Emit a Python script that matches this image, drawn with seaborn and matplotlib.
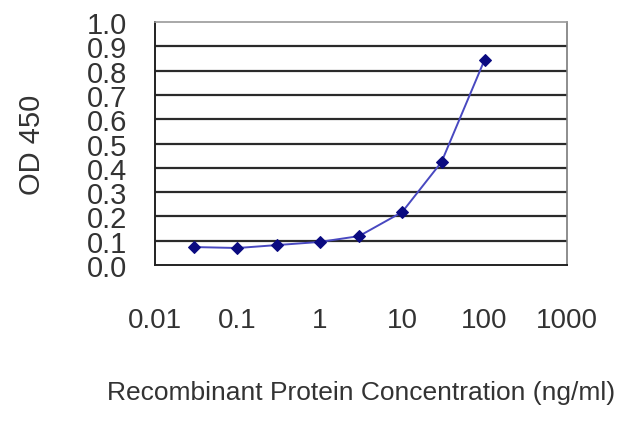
import matplotlib
matplotlib.use("Agg")
import matplotlib.pyplot as plt
import seaborn as sns
import pandas as pd

concentration = [0.03, 0.1, 0.3, 1, 3, 10, 30, 100]
od450 = [0.074, 0.070, 0.082, 0.095, 0.119, 0.218, 0.424, 0.845]
x_ticks = [0.01, 0.1, 1, 10, 100, 1000]
x_tick_labels = ["0.01", "0.1", "1", "10", "100", "1000"]
y_ticks = [0.0, 0.1, 0.2, 0.3, 0.4, 0.5, 0.6, 0.7, 0.8, 0.9, 1.0]
y_tick_labels = ["0.0", "0.1", "0.2", "0.3", "0.4", "0.5", "0.6", "0.7", "0.8", "0.9", "1.0"]

sns.set_style("white")
plt.rcParams["font.family"] = ["Liberation Sans", "DejaVu Sans"]

df = pd.DataFrame({"conc": concentration, "od": od450})

fig = plt.figure(figsize=(6.4, 4.27), dpi=100)
ax = fig.add_axes([0.242, 0.377, 0.644, 0.569])

for yv in y_ticks[1:-1]:
    ax.axhline(yv, color="#2a2a2a", linewidth=1.6, zorder=1)

sns.lineplot(data=df, x="conc", y="od", ax=ax, color="#4848c0", linewidth=1.4,
             marker="D", markersize=6, markerfacecolor="#0a0a80",
             markeredgecolor="#0a0a80", zorder=3)

ax.set_xscale("log")
ax.set_xlim(0.01, 1000)
ax.set_ylim(0, 1.0)
ax.set_xticks(x_ticks)
ax.set_xticklabels(x_tick_labels)
ax.set_yticks(y_ticks)
ax.set_yticklabels(y_tick_labels)
ax.minorticks_off()

ax.tick_params(axis="x", which="major", length=3, width=1, color="#333333",
               direction="out", pad=27, labelsize=20, labelcolor="#333333")
ax.tick_params(axis="y", which="major", length=0, pad=20, labelsize=21,
               labelcolor="#333333")

for side in ["left", "bottom"]:
    ax.spines[side].set_color("#222222")
    ax.spines[side].set_linewidth(1.4)
ax.spines["top"].set_color("#9a9a9a")
ax.spines["right"].set_color("#7a7a7a")
ax.spines["top"].set_linewidth(1.2)
ax.spines["right"].set_linewidth(1.2)

ax.set_xlabel("Recombinant Protein Concentration (ng/ml)", fontsize=19,
              color="#333333", labelpad=34)
ax.set_ylabel("OD 450", fontsize=21, color="#333333")
ax.yaxis.set_label_coords(-0.265, 0.5)

fig.savefig("out.png", dpi=100)
